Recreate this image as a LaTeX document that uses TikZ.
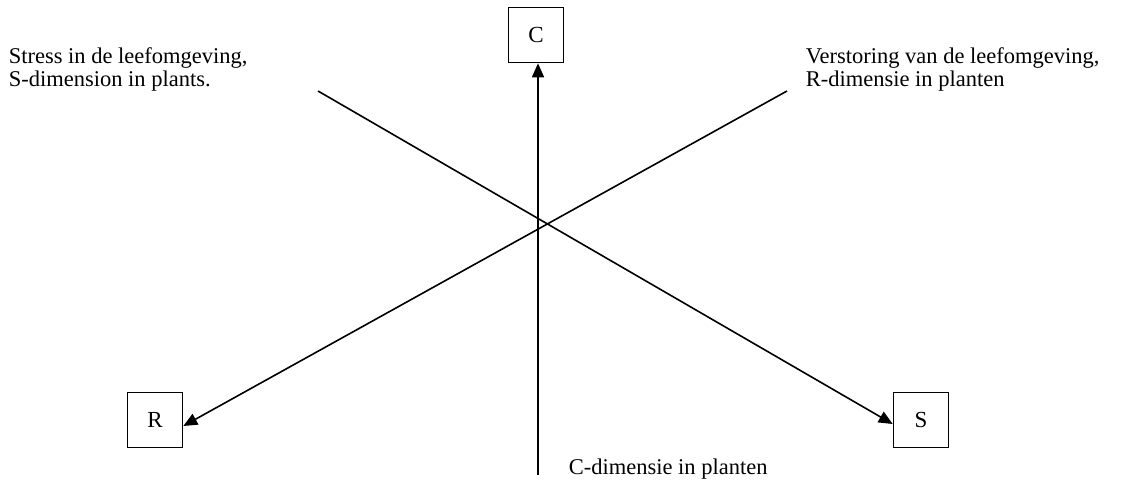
\documentclass[tikz,border=0pt]{standalone}
\usepackage{fontspec}
\setmainfont{Liberation Serif}
\usetikzlibrary{arrows.meta}
\begin{document}
\begin{tikzpicture}[x=1pt,y=-1pt,line width=1.6pt,
    box/.style={draw,minimum size=55pt,inner sep=0pt,font=\fontsize{23}{23}\selectfont},
    lbl/.style={inner sep=0pt,align=left,font=\fontsize{22.5}{23}\selectfont},
    pijl/.style={-{Triangle[length=14pt,width=12pt]}}]
    \useasboundingbox (0,0) rectangle (1147,486);
    \node[box] (C) at (536,35) {C};
    \node[box] (R) at (155,420) {R};
    \node[box] (S) at (921,420) {S};
    \coordinate (cbot) at (538,475);
    \coordinate (sstart) at (318,91);
    \coordinate (rstart) at (787,91);
    \draw[pijl] (cbot) -- (C.south -| cbot);
    \draw[pijl] (sstart) -- ([yshift=-4pt]S.west);
    \draw[pijl] (rstart) -- ([yshift=-6pt]R.east);
    \node[lbl,anchor=north west] (stress) at (8,47) {Stress in de leefomgeving,\\S-dimension in plants.};
    \node[lbl,anchor=north west] (verst) at (805,47) {Verstoring van de leefomgeving,\\R-dimensie in planten};
    \node[lbl,anchor=base west] (cdim) at (568,474) {C-dimensie in planten};
\end{tikzpicture}
\end{document}
